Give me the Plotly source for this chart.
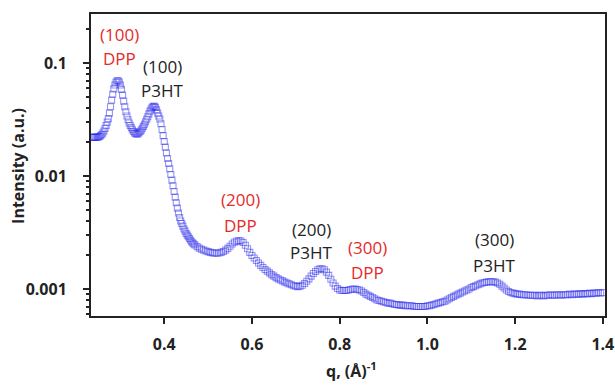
import plotly.graph_objects as go

# scattering vector q (1/Å): finer sampling in the steep low-q region
q_fine = [
    0.2350, 0.2375, 0.2400, 0.2425, 0.2450, 0.2475, 0.2500, 0.2525, 0.2550, 0.2575,
    0.2600, 0.2625, 0.2650, 0.2675, 0.2700, 0.2725, 0.2750, 0.2775, 0.2800, 0.2825,
    0.2850, 0.2875, 0.2900, 0.2925, 0.2950, 0.2975, 0.3000, 0.3025, 0.3050, 0.3075,
    0.3100, 0.3125, 0.3150, 0.3175, 0.3200, 0.3225, 0.3250, 0.3275, 0.3300, 0.3325,
    0.3350, 0.3375, 0.3400, 0.3425, 0.3450, 0.3475, 0.3500, 0.3525, 0.3550, 0.3575,
    0.3600, 0.3625, 0.3650, 0.3675, 0.3700, 0.3725, 0.3750, 0.3775, 0.3800, 0.3825,
    0.3850, 0.3875, 0.3900, 0.3925, 0.3950, 0.3975, 0.4000, 0.4025, 0.4050, 0.4075,
    0.4100, 0.4125, 0.4150, 0.4175, 0.4200, 0.4225, 0.4250, 0.4275, 0.4300, 0.4325,
    0.4350, 0.4375, 0.4400, 0.4425, 0.4450, 0.4475, 0.4500, 0.4525, 0.4550, 0.4575,
    0.4600, 0.4625, 0.4650, 0.4675, 0.4700,
]
intensity_fine = [
    0.0221, 0.0220, 0.0220, 0.0220, 0.0220, 0.0221, 0.0222, 0.0224, 0.0228, 0.0233,
    0.0240, 0.0250, 0.0263, 0.0280, 0.0300, 0.0322, 0.0360, 0.0410, 0.0470, 0.0530,
    0.0590, 0.0640, 0.0675, 0.0695, 0.0698, 0.0680, 0.0640, 0.0585, 0.0520, 0.0460,
    0.0410, 0.0370, 0.0340, 0.0315, 0.0295, 0.0280, 0.0268, 0.0257, 0.0248, 0.0241,
    0.0237, 0.0235, 0.0237, 0.0242, 0.0248, 0.0255, 0.0265, 0.0275, 0.0287, 0.0302,
    0.0318, 0.0335, 0.0355, 0.0375, 0.0392, 0.0405, 0.0413, 0.0415, 0.0405, 0.0385,
    0.0360, 0.0340, 0.0320, 0.0290, 0.0258, 0.0228, 0.0202, 0.0180, 0.0160, 0.0143,
    0.0129, 0.0116, 0.0103, 0.0092, 0.0082, 0.0073, 0.0065, 0.0058, 0.0052, 0.0047,
    0.0043, 0.0040, 0.0038, 0.0036, 0.0034, 0.00325, 0.0031, 0.0030, 0.0029, 0.0028,
    0.0027, 0.00262, 0.00255, 0.00250, 0.00245,
]

q_coarse = [
    0.475, 0.480, 0.485, 0.490, 0.495, 0.500, 0.505, 0.510, 0.515, 0.520,
    0.525, 0.530, 0.535, 0.540, 0.545, 0.550, 0.555, 0.560, 0.565, 0.570,
    0.575, 0.580, 0.585, 0.590, 0.595, 0.600, 0.605, 0.610, 0.615, 0.620,
    0.625, 0.630, 0.635, 0.640, 0.645, 0.650, 0.655, 0.660, 0.665, 0.670,
    0.675, 0.680, 0.685, 0.690, 0.695, 0.700, 0.705, 0.710, 0.715, 0.720,
    0.725, 0.730, 0.735, 0.740, 0.745, 0.750, 0.755, 0.760, 0.765, 0.770,
    0.775, 0.780, 0.785, 0.790, 0.795, 0.800, 0.805, 0.810, 0.815, 0.820,
    0.825, 0.830, 0.835, 0.840, 0.845, 0.850, 0.855, 0.860, 0.865, 0.870,
    0.875, 0.880, 0.885, 0.890, 0.895, 0.900, 0.905, 0.910, 0.915, 0.920,
    0.925, 0.930, 0.935, 0.940, 0.945, 0.950, 0.955, 0.960, 0.965, 0.970,
    0.975, 0.980, 0.985, 0.990, 0.995, 1.000, 1.005, 1.010, 1.015, 1.020,
    1.025, 1.030, 1.035, 1.040, 1.045, 1.050, 1.055, 1.060, 1.065, 1.070,
    1.075, 1.080, 1.085, 1.090, 1.095, 1.100, 1.105, 1.110, 1.115, 1.120,
    1.125, 1.130, 1.135, 1.140, 1.145, 1.150, 1.155, 1.160, 1.165, 1.170,
    1.175, 1.180, 1.185, 1.190, 1.195, 1.200, 1.205, 1.210, 1.215, 1.220,
    1.225, 1.230, 1.235, 1.240, 1.245, 1.250, 1.255, 1.260, 1.265, 1.270,
    1.275, 1.280, 1.285, 1.290, 1.295, 1.300, 1.305, 1.310, 1.315, 1.320,
    1.325, 1.330, 1.335, 1.340, 1.345, 1.350, 1.355, 1.360, 1.365, 1.370,
    1.375, 1.380, 1.385, 1.390, 1.395, 1.400,
]
intensity_coarse = [
    0.00237, 0.00230, 0.00225, 0.00221, 0.00217, 0.00214, 0.00211, 0.00209, 0.00208, 0.00207,
    0.00208, 0.00211, 0.00215, 0.00221, 0.00229, 0.00239, 0.00250, 0.00259, 0.00265, 0.00268,
    0.00266, 0.00258, 0.00244, 0.00227, 0.00211, 0.00198, 0.00188, 0.00179, 0.00170, 0.00162,
    0.00155, 0.00149, 0.00144, 0.00139, 0.00134, 0.00130, 0.00126, 0.00123, 0.00120, 0.00118,
    0.00115, 0.00113, 0.00111, 0.00109, 0.00107, 0.00106, 0.00105, 0.00106, 0.00108, 0.00112,
    0.00117, 0.00123, 0.00130, 0.00137, 0.00143, 0.00148, 0.00151, 0.00151, 0.00148, 0.00141,
    0.00132, 0.00122, 0.00113, 0.00106, 0.00101, 0.00098, 0.00097, 0.00097, 0.00097, 0.00098,
    0.00099, 0.00100, 0.00100, 0.00099, 0.00098, 0.00096, 0.00093, 0.00090, 0.00088, 0.00086,
    0.00084, 0.00082, 0.00080, 0.00079, 0.00078, 0.00077, 0.00076, 0.00075, 0.00075, 0.00074,
    0.00073, 0.00073, 0.00072, 0.00072, 0.00072, 0.00071, 0.00071, 0.00071, 0.00071, 0.00070,
    0.00070, 0.00070, 0.00070, 0.00070, 0.00070, 0.00071, 0.00071, 0.00072, 0.00073, 0.00074,
    0.00075, 0.00076, 0.00077, 0.00078, 0.00080, 0.00082, 0.00084, 0.00086, 0.00088, 0.00090,
    0.00092, 0.00094, 0.00096, 0.00098, 0.00100, 0.00103, 0.00105, 0.00107, 0.00109, 0.00111,
    0.00113, 0.00114, 0.00115, 0.00116, 0.00116, 0.00116, 0.00115, 0.00113, 0.00110, 0.00106,
    0.00102, 0.00098, 0.00095, 0.00093, 0.00092, 0.00091, 0.00090, 0.00090, 0.00089, 0.00089,
    0.00089, 0.00088, 0.00088, 0.00088, 0.00088, 0.00087, 0.00088, 0.00088, 0.00087, 0.00088,
    0.00088, 0.00089, 0.00088, 0.00088, 0.00089, 0.00089, 0.00088, 0.00089, 0.00089, 0.00089,
    0.00090, 0.00089, 0.00090, 0.00090, 0.00090, 0.00091, 0.00090, 0.00091, 0.00091, 0.00092,
    0.00091, 0.00092, 0.00092, 0.00093, 0.00092, 0.00093,
]
assert len(q_fine) == len(intensity_fine)
assert len(q_coarse) == len(intensity_coarse)
q = q_fine + q_coarse
intensity = intensity_fine + intensity_coarse

x_ticks = [0.4, 0.6, 0.8, 1.0, 1.2, 1.4]
x_tick_text = ["0.4", "0.6", "0.8", "1.0", "1.2", "1.4"]
y_ticks = [0.001, 0.01, 0.1]
y_tick_text = ["0.001", "0.01", "0.1"]
x_title = "q, (Å)<sup>-1</sup>"
y_title = "Intensity (a.u.)"

# peak labels
label_text = ["(100)", "DPP", "(100)", "P3HT", "(200)", "DPP", "(200)", "P3HT",
              "(300)", "DPP", "(300)", "P3HT"]
label_q = [0.297, 0.297, 0.395, 0.395, 0.573, 0.573, 0.735, 0.735,
           0.863, 0.863, 1.153, 1.153]
label_logI = [-0.75, -0.96, -1.03, -1.24, -2.212, -2.434, -2.469, -2.681,
              -2.637, -2.858, -2.566, -2.796]
label_group = ["DPP", "DPP", "P3HT", "P3HT", "DPP", "DPP", "P3HT", "P3HT",
               "DPP", "DPP", "P3HT", "P3HT"]
group_color = {"DPP": "#e52a2a", "P3HT": "#222222"}

fig = go.Figure()
fig.add_trace(go.Scatter(
    x=q, y=intensity, mode="markers",
    marker=dict(symbol="square-open", size=6,
                color="rgba(45,45,235,0.5)",
                line=dict(width=1.1, color="rgba(45,45,235,0.5)")),
    showlegend=False, hoverinfo="x+y",
))

for t, xq, yl, g in zip(label_text, label_q, label_logI, label_group):
    fig.add_annotation(x=xq, y=yl, xref="x", yref="y", text=t, showarrow=False,
                       font=dict(family="Open Sans", size=17, color=group_color[g]),
                       xanchor="center", yanchor="middle")

title_font = dict(family="Open Sans", size=16, color="#222222", weight="bold")
fig.add_annotation(x=-0.142, y=0.497, xref="paper", yref="paper", text=y_title,
                   textangle=-90, showarrow=False, font=title_font,
                   xanchor="center", yanchor="middle")
fig.add_annotation(x=0.506, y=-0.18, xref="paper", yref="paper", text=x_title,
                   showarrow=False, font=title_font,
                   xanchor="center", yanchor="middle")

fig.update_layout(
    width=615, height=385,
    margin=dict(l=91, r=10, t=14, b=69),
    paper_bgcolor="white", plot_bgcolor="white",
    font=dict(family="Open Sans", color="#222222"),
)
fig.update_xaxes(
    range=[0.233, 1.405], tickvals=x_ticks, ticktext=x_tick_text,
    ticks="outside", ticklen=6, tickwidth=2, tickcolor="#222222",
    showline=True, linewidth=2, linecolor="#222222", mirror=True,
    showgrid=False, zeroline=False, automargin=False,
    tickfont=dict(family="Open Sans", size=16, color="#222222", weight="bold"),
    ticklabelstandoff=7,
)
fig.update_yaxes(
    type="log", range=[-3.239, -0.566], tickvals=y_ticks, ticktext=y_tick_text,
    ticks="outside", ticklen=6, tickwidth=2, tickcolor="#222222",
    minor=dict(ticks="outside", ticklen=3, tickwidth=1.5, tickcolor="#222222", dtick="D1"),
    showline=True, linewidth=2, linecolor="#222222", mirror=True,
    showgrid=False, zeroline=False, automargin=False,
    tickfont=dict(family="Open Sans", size=16, color="#222222", weight="bold"),
    ticklabelstandoff=13,
)

fig.write_html("out.html", config={"displayModeBar": False},
               post_script="document.body.style.margin='0';")
